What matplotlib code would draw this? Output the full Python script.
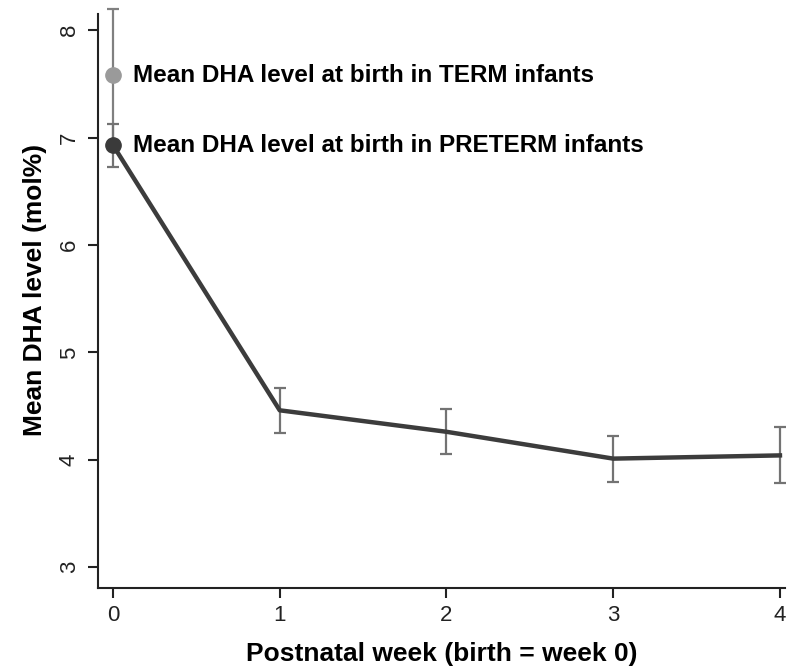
import numpy as np
import matplotlib.pyplot as plt

plt.rcParams['font.family'] = ['Liberation Sans', 'DejaVu Sans']

# data
weeks = [0, 1, 2, 3, 4]
preterm_mean = [6.93, 4.46, 4.26, 4.01, 4.04]
preterm_err = [0.20, 0.21, 0.21, 0.215, 0.26]
term_week = [0]
term_mean = [7.58]
term_err = [0.62]
term_label = 'Mean DHA level at birth in TERM infants'
preterm_label = 'Mean DHA level at birth in PRETERM infants'

fig = plt.figure(figsize=(7.9, 6.72), dpi=100)
ax = fig.add_axes([0.124, 0.125, 0.8696, 0.854])

# term infants error bar + marker (light grey)
ax.errorbar(term_week, term_mean, yerr=term_err, fmt='none', ecolor='#808080',
            elinewidth=1.6, capsize=4, capthick=1.6, clip_on=False, zorder=2)
ax.plot(term_week, term_mean, 'o', color='#9a9a9a', markersize=11, clip_on=False, zorder=4)

# preterm trajectory
ax.errorbar(weeks, preterm_mean, yerr=preterm_err, fmt='none', ecolor='#737373',
            elinewidth=1.6, capsize=4, capthick=1.6, clip_on=False, zorder=2)
ax.plot(weeks, preterm_mean, '-', color='#3c3c3c', linewidth=3.2, clip_on=False, zorder=3)
ax.plot(weeks[:1], preterm_mean[:1], 'o', color='#3a3a3a', markersize=11, clip_on=False, zorder=5)

ax.text(0.12, term_mean[0], term_label, fontsize=17.5, fontweight='bold', va='center', ha='left')
ax.text(0.12, preterm_mean[0], preterm_label, fontsize=17.5, fontweight='bold', va='center', ha='left')

ax.set_xlim(-0.09, 4.03)
ax.set_ylim(2.805, 8.15)
ax.set_xticks(weeks)
ax.set_yticks([3, 4, 5, 6, 7, 8])
ax.tick_params(axis='both', direction='out', length=7, width=1.5, colors='#222222', labelsize=16, pad=6)
ax.tick_params(axis='x', pad=5)
for lab in ax.get_yticklabels():
    lab.set_rotation(90)
    lab.set_va('center')

for s in ['top', 'right']:
    ax.spines[s].set_visible(False)
for s in ['left', 'bottom']:
    ax.spines[s].set_linewidth(1.5)
    ax.spines[s].set_color('#222222')

ax.set_xlabel('Postnatal week (birth = week 0)', fontsize=19, fontweight='bold', labelpad=12)
ax.set_ylabel('Mean DHA level (mol%)', fontsize=19, fontweight='bold')
ax.yaxis.set_label_coords(-0.074, 0.52)

fig.savefig('out.png', dpi=100)
